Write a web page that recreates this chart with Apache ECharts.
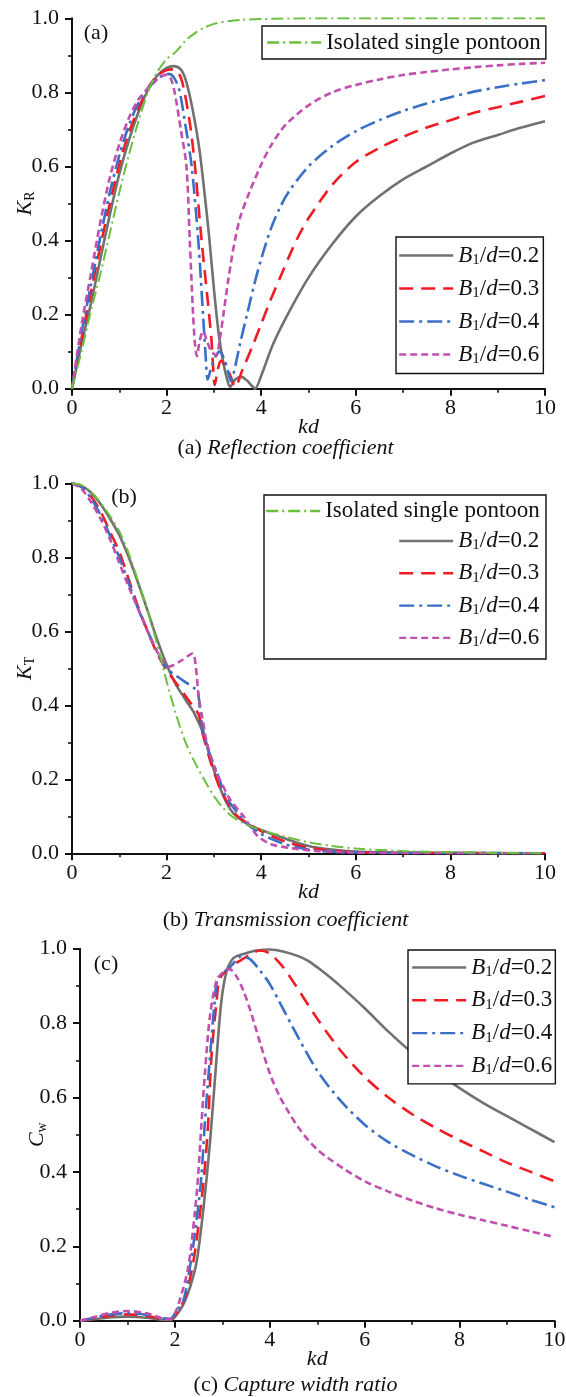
<!DOCTYPE html>
<html><head><meta charset="utf-8">
<script src="https://cdn.jsdelivr.net/npm/echarts@6/dist/echarts.min.js"></script>
<style>html,body{margin:0;padding:0;background:#fff}#c{width:566px;height:1397px}</style>
</head><body><div id="c"></div>
<script>
// ---------- DATA (kd, value) ----------
const xTicks = [0, 2, 4, 6, 8, 10];
const yTicks = [0.0, 0.2, 0.4, 0.6, 0.8, 1.0];
const seriesNames = ['Isolated single pontoon', 'B1/d=0.2', 'B1/d=0.3', 'B1/d=0.4', 'B1/d=0.6'];

// (a) Reflection coefficient K_R
const KR_iso = [[0,0],[0.2,0.1],[0.4,0.21],[0.6,0.31],[0.8,0.42],[1.0,0.53],[1.2,0.63],[1.4,0.72],[1.6,0.8],[1.7,0.83],[1.8,0.855],[2.0,0.89],[2.2,0.91],[2.4,0.94],[2.6,0.96],[2.8,0.975],[3.0,0.985],[3.3,0.992],[3.6,0.996],[4.0,0.998],[5,1.0],[6,1.0],[8,1.0],[10,1.0]];
const KR_b02 = [[0,0],[0.2,0.12],[0.4,0.23],[0.6,0.35],[0.8,0.47],[1.0,0.58],[1.2,0.67],[1.4,0.745],[1.6,0.805],[1.8,0.845],[2.0,0.866],[2.15,0.871],[2.3,0.862],[2.4,0.835],[2.5,0.785],[2.6,0.72],[2.7,0.64],[2.8,0.53],[2.9,0.41],[3.0,0.27],[3.1,0.15],[3.2,0.07],[3.28,0.025],[3.34,0.005],[3.45,0.025],[3.58,0.032],[3.7,0.022],[3.8,0.008],[3.87,0.0],[4.0,0.035],[4.25,0.12],[4.6,0.21],[5.0,0.30],[5.5,0.39],[6.0,0.465],[6.5,0.52],[7.0,0.565],[7.5,0.6],[8.0,0.635],[8.5,0.665],[9.0,0.685],[9.5,0.705],[10,0.722]];
const KR_b03 = [[0,0],[0.2,0.135],[0.4,0.26],[0.6,0.385],[0.8,0.5],[1.0,0.605],[1.2,0.69],[1.4,0.755],[1.6,0.81],[1.8,0.845],[2.0,0.86],[2.1,0.862],[2.2,0.86],[2.3,0.84],[2.38,0.8],[2.5,0.71],[2.6,0.6],[2.74,0.4],[2.86,0.25],[2.95,0.13],[3.02,0.01],[3.08,0.05],[3.15,0.075],[3.25,0.06],[3.35,0.035],[3.45,0.005],[3.6,0.05],[3.8,0.11],[4.0,0.175],[4.2,0.24],[4.4,0.3],[4.6,0.36],[4.8,0.415],[5.0,0.46],[5.5,0.55],[6.0,0.612],[6.5,0.65],[7.0,0.68],[7.5,0.705],[8.0,0.725],[8.5,0.745],[9.0,0.76],[9.5,0.775],[10,0.79]];
const KR_b04 = [[0,0],[0.2,0.15],[0.4,0.28],[0.6,0.41],[0.8,0.53],[1.0,0.63],[1.2,0.71],[1.4,0.77],[1.6,0.81],[1.8,0.835],[2.0,0.85],[2.1,0.848],[2.2,0.83],[2.28,0.8],[2.4,0.71],[2.53,0.6],[2.67,0.4],[2.77,0.2],[2.82,0.1],[2.87,0.025],[2.95,0.06],[3.05,0.09],[3.12,0.1],[3.22,0.08],[3.3,0.045],[3.36,0.02],[3.45,0.06],[3.55,0.12],[3.7,0.2],[3.85,0.28],[4.0,0.35],[4.2,0.43],[4.4,0.49],[4.6,0.535],[5.0,0.6],[5.5,0.655],[6.0,0.695],[6.5,0.725],[7.0,0.75],[7.5,0.77],[8.0,0.787],[8.5,0.802],[9.0,0.814],[9.5,0.824],[10,0.833]];
const KR_b06 = [[0,0],[0.2,0.17],[0.4,0.31],[0.6,0.45],[0.8,0.57],[1.0,0.66],[1.2,0.73],[1.4,0.78],[1.6,0.81],[1.8,0.835],[2.0,0.848],[2.08,0.84],[2.17,0.8],[2.3,0.7],[2.42,0.6],[2.49,0.4],[2.56,0.2],[2.6,0.12],[2.64,0.088],[2.7,0.13],[2.77,0.155],[2.85,0.13],[2.95,0.1],[3.05,0.09],[3.12,0.13],[3.2,0.2],[3.3,0.29],[3.4,0.37],[3.55,0.46],[3.75,0.53],[4.0,0.605],[4.2,0.655],[4.5,0.71],[5.0,0.765],[5.5,0.8],[6.0,0.82],[6.5,0.835],[7.0,0.847],[7.5,0.855],[8,0.862],[8.5,0.868],[9,0.873],[9.5,0.877],[10,0.88]];

// (b) Transmission coefficient K_T
const KT_iso = [[0,1],[0.2,0.995],[0.4,0.977],[0.6,0.948],[0.8,0.912],[1.0,0.87],[1.2,0.81],[1.4,0.735],[1.6,0.655],[1.8,0.565],[2.0,0.465],[2.2,0.375],[2.4,0.3],[2.6,0.245],[2.8,0.198],[3.0,0.155],[3.2,0.122],[3.4,0.098],[3.7,0.077],[4.0,0.063],[4.5,0.045],[5,0.03],[5.5,0.02],[6,0.013],[7,0.006],[8,0.003],[9,0.001],[10,0]];
const KT_b02 = [[0,1],[0.2,0.993],[0.4,0.975],[0.6,0.945],[0.8,0.905],[1.0,0.86],[1.2,0.8],[1.4,0.73],[1.6,0.655],[1.8,0.578],[2.0,0.51],[2.2,0.455],[2.4,0.415],[2.6,0.375],[2.8,0.315],[3.0,0.225],[3.2,0.155],[3.4,0.11],[3.7,0.08],[4.0,0.063],[4.5,0.04],[5.0,0.02],[5.5,0.01],[6,0.005],[7,0.002],[8,0.001],[10,0]];
const KT_b03 = [[0,1],[0.2,0.99],[0.4,0.965],[0.6,0.925],[0.8,0.87],[1.0,0.815],[1.2,0.74],[1.4,0.665],[1.6,0.6],[1.8,0.54],[2.0,0.495],[2.2,0.46],[2.4,0.425],[2.6,0.39],[2.68,0.375],[2.75,0.33],[2.9,0.26],[3.0,0.22],[3.15,0.17],[3.35,0.125],[3.5,0.1],[4,0.06],[4.5,0.032],[5,0.015],[5.5,0.007],[6,0.003],[7,0.001],[10,0]];
const KT_b04 = [[0,1],[0.2,0.99],[0.4,0.96],[0.6,0.915],[0.8,0.86],[1.0,0.8],[1.2,0.73],[1.4,0.66],[1.6,0.6],[1.8,0.545],[2.0,0.5],[2.2,0.48],[2.43,0.46],[2.6,0.445],[2.66,0.44],[2.72,0.37],[2.85,0.29],[3.06,0.22],[3.27,0.15],[3.56,0.1],[3.7,0.08],[4,0.052],[4.5,0.025],[5,0.01],[5.5,0.004],[6,0.002],[10,0]];
const KT_b06 = [[0,1],[0.2,0.985],[0.4,0.95],[0.6,0.905],[0.8,0.85],[1.0,0.785],[1.2,0.72],[1.4,0.66],[1.6,0.6],[1.8,0.545],[1.94,0.515],[2.05,0.505],[2.3,0.52],[2.55,0.54],[2.62,0.5],[2.68,0.42],[2.75,0.37],[2.85,0.3],[3.06,0.215],[3.13,0.198],[3.35,0.144],[3.63,0.1],[3.9,0.05],[4.2,0.025],[4.58,0.015],[5.2,0.006],[6,0.002],[7,0.001],[10,0]];

// (c) Capture width ratio C_w
const CW_b02 = [[0,0],[0.3,0.004],[0.6,0.009],[1.0,0.011],[1.4,0.008],[1.7,0.003],[1.9,0.002],[2.0,0.01],[2.1,0.027],[2.2,0.05],[2.32,0.09],[2.46,0.16],[2.6,0.3],[2.74,0.48],[2.88,0.71],[2.98,0.86],[3.09,0.94],[3.2,0.97],[3.3,0.98],[3.5,0.988],[3.72,0.995],[4.0,0.998],[4.3,0.992],[4.6,0.98],[4.8,0.968],[5.0,0.95],[5.25,0.925],[5.5,0.898],[6.0,0.84],[6.5,0.777],[7.0,0.72],[7.5,0.67],[8.0,0.625],[8.5,0.585],[9.0,0.55],[9.5,0.515],[10,0.48]];
const CW_b03 = [[0,0],[0.3,0.006],[0.6,0.013],[1.0,0.017],[1.4,0.013],[1.7,0.005],[1.9,0.004],[2.05,0.025],[2.21,0.06],[2.39,0.16],[2.53,0.29],[2.63,0.41],[2.7,0.53],[2.77,0.71],[2.88,0.86],[2.95,0.92],[3.16,0.95],[3.4,0.97],[3.6,0.985],[3.79,0.995],[4.0,0.987],[4.25,0.955],[4.5,0.91],[5.0,0.812],[5.5,0.725],[6.0,0.655],[6.5,0.6],[7.0,0.555],[7.5,0.518],[8.0,0.485],[8.5,0.455],[9.0,0.425],[9.5,0.4],[10,0.375]];
const CW_b04 = [[0,0],[0.3,0.008],[0.6,0.016],[1.0,0.02],[1.4,0.016],[1.7,0.007],[1.9,0.005],[2.05,0.03],[2.18,0.054],[2.35,0.17],[2.49,0.305],[2.56,0.39],[2.63,0.53],[2.74,0.71],[2.84,0.86],[2.91,0.92],[3.16,0.95],[3.3,0.97],[3.4,0.98],[3.6,0.97],[3.8,0.94],[4.0,0.905],[4.5,0.785],[5.0,0.672],[5.5,0.59],[6.0,0.527],[6.5,0.48],[7.0,0.445],[7.5,0.415],[8.0,0.39],[8.5,0.368],[9.0,0.347],[9.5,0.325],[10,0.305]];
const CW_b06 = [[0,0],[0.3,0.01],[0.6,0.02],[1.0,0.026],[1.4,0.02],[1.7,0.008],[1.9,0.004],[2.0,0.02],[2.1,0.054],[2.28,0.143],[2.42,0.29],[2.49,0.39],[2.56,0.53],[2.63,0.66],[2.74,0.82],[2.88,0.915],[3.0,0.935],[3.15,0.945],[3.3,0.925],[3.45,0.885],[3.6,0.83],[3.8,0.745],[4.0,0.665],[4.2,0.605],[4.4,0.56],[4.6,0.52],[4.8,0.487],[5.0,0.46],[5.2,0.44],[5.6,0.405],[6.0,0.375],[6.5,0.347],[7.0,0.323],[7.5,0.302],[8.0,0.285],[8.5,0.27],[9.0,0.255],[9.5,0.24],[10,0.225]];

// ---------- STYLE ----------
const FONT = 'Liberation Serif';
const INK = '#111';
const STY = {
  'Isolated single pontoon': {color:'#6cbf3c', width:2, type:[12,4,2,4]},
  'B1/d=0.2': {color:'#717171', width:2.6, type:'solid'},
  'B1/d=0.3': {color:'#f01c24', width:2.6, type:[14,8]},
  'B1/d=0.4': {color:'#3b6fc6', width:2.6, type:[15,5,3,5]},
  'B1/d=0.6': {color:'#c04fae', width:2.6, type:[7,4]}
};
function rich(fs){
  return {
    n:{fontFamily:FONT,fontSize:fs,lineHeight:24,color:INK},
    i:{fontFamily:FONT,fontSize:fs,fontStyle:'italic',lineHeight:24,color:INK},
    s:{fontFamily:FONT,fontSize:Math.round(fs*0.64),lineHeight:8,verticalAlign:'bottom',color:INK}
  };
}
function legendFmt(name){
  if (name.charAt(0) === 'B') return '{i|B}{s|1}{n|/}{i|d}{n|=' + name.split('=')[1] + '}';
  return '{n|' + name + '}';
}
const grids = [
  {left:72, top:18.3, width:473, height:370.4, containLabel:false, outerBoundsMode:'none'},
  {left:72, top:483.3, width:473, height:370, containLabel:false, outerBoundsMode:'none'},
  {left:80, top:948.7, width:474.5, height:372, containLabel:false, outerBoundsMode:'none'}
];
function xAx(i){
  return {gridIndex:i, type:'value', min:0, max:10, interval:2,
    name:'kd', nameLocation:'middle', nameGap:28, nameMoveOverlap:false,
    nameTextStyle:{fontFamily:FONT,fontSize:22,fontStyle:'italic',color:INK},
    axisLine:{onZero:false,lineStyle:{color:INK,width:2}},
    axisTick:{inside:false,length:7,lineStyle:{color:INK,width:2}},
    minorTick:{show:true,splitNumber:2,length:4,lineStyle:{color:INK,width:1.6}},
    splitLine:{show:false},
    axisLabel:{fontFamily:FONT,fontSize:22,color:INK,margin:9}};
}
function yAx(i, nm, gap){
  return {gridIndex:i, type:'value', min:0, max:1, interval:0.2,
    name:nm, nameLocation:'middle', nameGap:gap, nameRotate:90, nameMoveOverlap:false,
    nameTextStyle:{rich:rich(22)},
    axisLine:{onZero:false,lineStyle:{color:INK,width:2}},
    axisTick:{inside:false,length:7,lineStyle:{color:INK,width:2}},
    minorTick:{show:true,splitNumber:2,length:4,lineStyle:{color:INK,width:1.6}},
    splitLine:{show:false},
    axisLabel:{fontFamily:FONT,fontSize:22,color:INK,margin:13,formatter:v=>v.toFixed(1)}};
}
function ser(name, data, gi){
  const s = STY[name];
  return {type:'line', name:name, data:data, xAxisIndex:gi, yAxisIndex:gi,
    showSymbol:false, symbol:'none', smooth:0.3,
    lineStyle:{color:s.color,width:s.width,type:s.type}, itemStyle:{color:s.color}, z:3};
}
const series = [
  ser('B1/d=0.2',KR_b02,0), ser('B1/d=0.3',KR_b03,0), ser('B1/d=0.4',KR_b04,0), ser('B1/d=0.6',KR_b06,0), ser('Isolated single pontoon',KR_iso,0),
  ser('B1/d=0.2',KT_b02,1), ser('B1/d=0.3',KT_b03,1), ser('B1/d=0.4',KT_b04,1), ser('B1/d=0.6',KT_b06,1), ser('Isolated single pontoon',KT_iso,1),
  ser('B1/d=0.2',CW_b02,2), ser('B1/d=0.3',CW_b03,2), ser('B1/d=0.4',CW_b04,2), ser('B1/d=0.6',CW_b06,2)
];
const legBase = {orient:'vertical', itemWidth:54, itemHeight:14, selectedMode:false,
  formatter:legendFmt, textStyle:{fontFamily:FONT,fontSize:23,color:INK,rich:rich(23)},
  lineStyle:{width:2.4}, itemStyle:{opacity:0, borderWidth:0}, backgroundColor:'#fff'};
const legends = [
  Object.assign({}, legBase, {data:[seriesNames[0]], left:262, top:26, padding:[5,5,5,4], borderColor:INK, borderWidth:1.4}),
  Object.assign({}, legBase, {data:seriesNames.slice(1), left:396, top:237, padding:[7,4,7,2], itemGap:9.5, borderColor:INK, borderWidth:1.4}),
  Object.assign({}, legBase, {data:[seriesNames[0]], left:265, top:499.5, padding:0, backgroundColor:'transparent'}),
  Object.assign({}, legBase, {data:seriesNames.slice(1), left:398, top:529.5, padding:0, itemGap:8.8, backgroundColor:'transparent'}),
  Object.assign({}, legBase, {data:seriesNames.slice(1), left:408, top:950, padding:[6,3,6,3], itemGap:9.3, borderColor:INK, borderWidth:1.4})
];
function txt(x, y, text){
  return {type:'text', x:x, y:y, z:10, style:{text:text, rich:rich(22), fontFamily:FONT, fontSize:22, fill:INK,
    align:'center', verticalAlign:'middle', textAlign:'center', textVerticalAlign:'middle'}};
}
const graphic = [
  {type:'rect', z:1, shape:{x:264,y:495,width:282,height:164}, style:{fill:'#fff', stroke:INK, lineWidth:1.4}},
  txt(96, 33, '{n|(a)}'), txt(124, 497, '{n|(b)}'), txt(106, 964, '{n|(c)}'),
  txt(285.5, 448, '{n|(a) }{i|Reflection coefficient}'),
  txt(285.5, 920, '{n|(b) }{i|Transmission coefficient}'),
  txt(295.5, 1385, '{n|(c) }{i|Capture width ratio}')
];
const chart = echarts.init(document.getElementById('c'), null, {renderer:'canvas'});
chart.setOption({
  animation:false, backgroundColor:'#fff',
  grid:grids,
  xAxis:[xAx(0),xAx(1),xAx(2)],
  yAxis:[yAx(0,'{i|K}{s|R}',35), yAx(1,'{i|K}{s|T}',35), yAx(2,'{i|C}{s|w}',31)],
  legend:legends,
  graphic:graphic,
  series:series
});
</script></body></html>
